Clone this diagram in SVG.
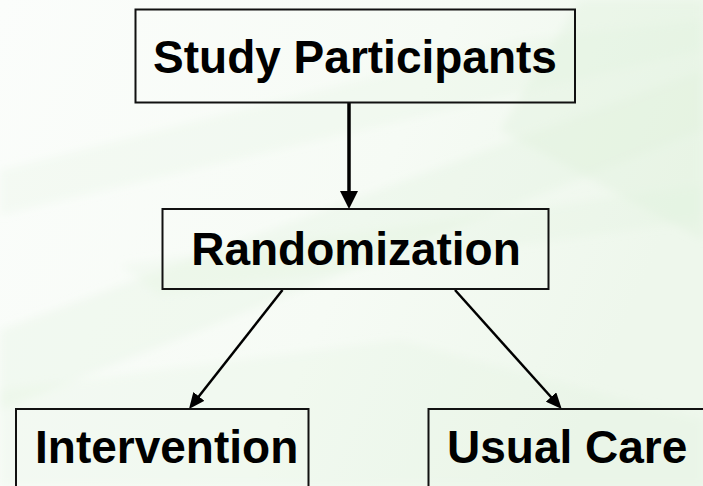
<svg xmlns="http://www.w3.org/2000/svg" width="703" height="486" viewBox="0 0 703 486">
  <defs>
    <style>
      .box { fill: none; stroke: #111; stroke-width: 2; }
      .label { font-family: "Liberation Sans", Arial, sans-serif; font-weight: bold; font-size: 46px; fill: #000; }
      .link { fill: none; stroke: #000; }
      .streak { fill: #dcefd8; }
    </style>
    <linearGradient id="bg" x1="0" y1="0" x2="1" y2="0.3">
      <stop offset="0" stop-color="#fbfdfb"/>
      <stop offset="0.6" stop-color="#f6fbf5"/>
      <stop offset="1" stop-color="#eef7ec"/>
    </linearGradient>
    <filter id="soft" x="-10%" y="-10%" width="120%" height="120%">
      <feGaussianBlur stdDeviation="4"/>
    </filter>
    <marker id="headBig" markerUnits="userSpaceOnUse" markerWidth="18" markerHeight="18" refX="4" refY="9" orient="auto">
      <path d="M0,0 L18,9 L0,18 z" fill="#000"/>
    </marker>
    <marker id="headSmall" markerUnits="userSpaceOnUse" markerWidth="16" markerHeight="14" refX="4" refY="7" orient="auto">
      <path d="M0,0 L16,7 L0,14 z" fill="#000"/>
    </marker>
  </defs>

  <!-- backdrop with soft diagonal streaks -->
  <g id="backdrop">
    <rect width="703" height="486" fill="url(#bg)"/>
    <g filter="url(#soft)">
      <polygon class="streak" opacity="0.25" points="0,330 703,70 703,130 0,410"/>
      <polygon class="streak" opacity="0.2" points="0,170 520,40 703,20 703,50 0,215"/>
      <polygon class="streak" opacity="0.3" points="580,0 703,0 703,240 500,130"/>
      <polygon class="streak" opacity="0.2" points="0,390 400,340 703,420 703,486 0,486"/>
      <polygon class="streak" opacity="0.2" points="120,265 703,185 703,220 160,295"/>
    </g>
  </g>

  <g id="connectors">
    <line class="link" stroke-width="3.5" x1="349" y1="103" x2="349" y2="195" marker-end="url(#headBig)"/>
    <line class="link" stroke-width="2.5" x1="282.5" y1="290" x2="196.4" y2="399.5" marker-end="url(#headSmall)"/>
    <line class="link" stroke-width="2.5" x1="455" y1="290" x2="553.7" y2="400" marker-end="url(#headSmall)"/>
  </g>

  <g id="study-participants">
    <rect class="box" x="135.5" y="9.5" width="439.5" height="93"/>
    <text class="label" x="355" y="73" text-anchor="middle">Study Participants</text>
  </g>

  <g id="randomization">
    <rect class="box" x="162.5" y="209" width="386" height="80"/>
    <text class="label" x="356" y="265" text-anchor="middle">Randomization</text>
  </g>

  <g id="intervention">
    <rect class="box" x="16" y="409" width="292.5" height="90"/>
    <text class="label" x="35" y="463">Intervention</text>
  </g>

  <g id="usual-care">
    <rect class="box" x="428.5" y="409" width="290" height="90"/>
    <text class="label" x="447" y="463">Usual Care</text>
  </g>
</svg>
